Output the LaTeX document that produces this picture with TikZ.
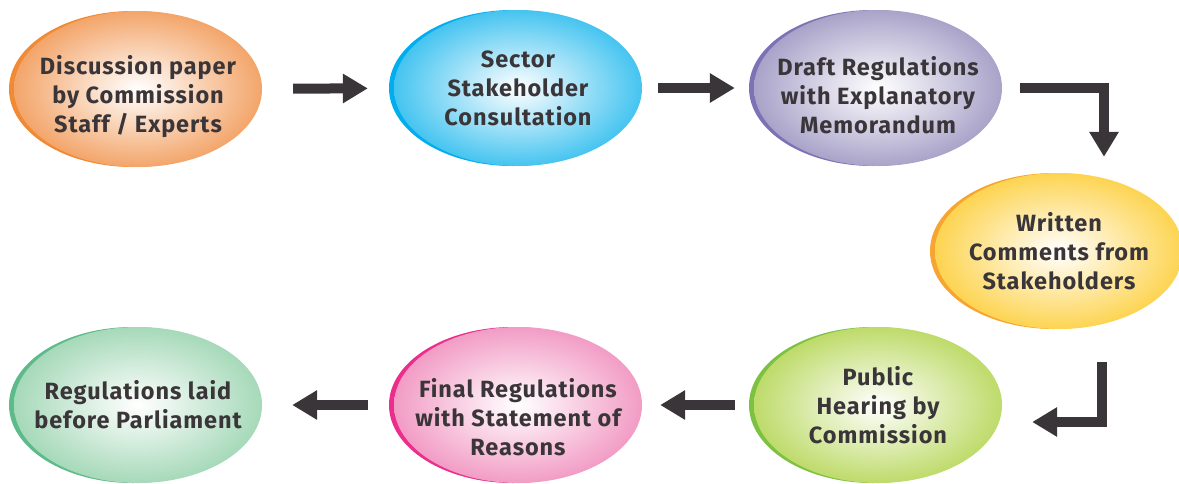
\documentclass[tikz,border=0pt]{standalone}
\usepackage{fontspec}
\setmainfont[LetterSpace=4]{Fira Sans}
\usetikzlibrary{shapes.geometric,shadows,arrows.meta}

\definecolor{txtgray}{HTML}{3A3538}
\definecolor{orangeout}{HTML}{F3A56A}
\definecolor{orangeedge}{HTML}{F08A35}
\definecolor{cyanout}{HTML}{45C4F0}
\definecolor{cyanedge}{HTML}{00AEEF}
\definecolor{lilacout}{HTML}{A9A3C9}
\definecolor{lilacedge}{HTML}{7B73B5}
\definecolor{yellowout}{HTML}{FDD451}
\definecolor{yellowedge}{HTML}{F7A532}
\definecolor{greenout}{HTML}{BEDB6A}
\definecolor{greenedge}{HTML}{7DC143}
\definecolor{pinkout}{HTML}{F29CC5}
\definecolor{pinkedge}{HTML}{EC2D8C}
\definecolor{mintout}{HTML}{A6D9B9}
\definecolor{mintedge}{HTML}{5DBB8A}

% taller first line, so the text sits lower in its ellipse
\newcommand{\dropline}[1][34pt]{\rule{0pt}{#1}}

\tikzset{
  stage/.style 2 args={ellipse, minimum width=248pt, minimum height=156pt,
    inner sep=-40pt, align=center, text=txtgray,
    font=\fontsize{23.5}{29}\selectfont\bfseries,
    shading=radial, inner color=white, outer color=#1,
    general shadow={shadow xshift=-5pt, fill=#2}},
  flow/.style={line width=10pt, draw=txtgray, line join=miter,
    -{Triangle[width=28pt,length=25pt]}}
}

\begin{document}
\begin{tikzpicture}[x=1pt,y=-1pt]
  \useasboundingbox (0,0) rectangle (1179,483);

  \node [stage={orangeout}{orangeedge}] (disc) at (138,89)
    {\dropline Discussion paper\\by Commission\\Staff / Experts};
  \node [stage={cyanout}{cyanedge}] (sector) at (518,88)
    {Sector\\Stakeholder\\Consultation};
  \node [stage={lilacout}{lilacedge}] (draft) at (878,88)
    {\dropline Draft Regulations\\with Explanatory\\Memorandum};
  \node [stage={yellowout}{yellowedge}] (written) at (1059,251)
    {Written\\Comments from\\Stakeholders};
  \node [stage={greenout}{greenedge}] (hearing) at (878,405)
    {Public\\Hearing by\\Commission};
  \node [stage={pinkout}{pinkedge}] (final) at (518,405)
    {\dropline[44pt]Final Regulations\\with Statement of\\Reasons};
  \node [stage={mintout}{mintedge}] (laid) at (138,405)
    {Regulations laid\\before Parliament};

  \coordinate (c1) at (1104,88);
  \coordinate (c2) at (1102,422);

  \draw [flow, shorten <=31pt, shorten >=26pt] (disc) -- (sector);
  \draw [flow, shorten <=16pt, shorten >=19pt] (sector) -- (draft);
  \draw [flow, shorten <=18pt, shorten >=16pt] (draft) -- (c1) -- (c1 |- written.north);
  \draw [flow, shorten <=33pt, shorten >=30pt] (c2 |- written.south) -- (c2) -- (c2 -| hearing.east);
  \draw [flow, shorten <=19pt, shorten >=18pt] (hearing) -- (final);
  \draw [flow, shorten <=26pt, shorten >=30pt] (final) -- (laid);
\end{tikzpicture}
\end{document}
